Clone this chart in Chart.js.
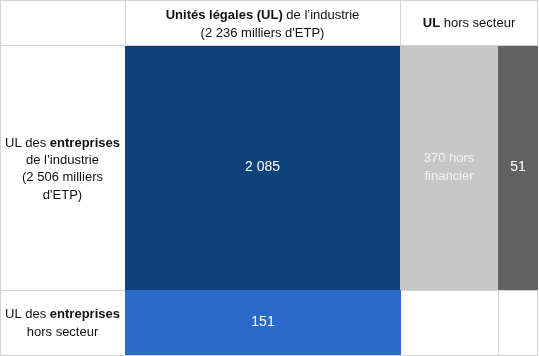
<!DOCTYPE html>
<html><head><meta charset="utf-8">
<script src="https://cdn.jsdelivr.net/npm/chart.js@4/dist/chart.umd.min.js"></script>
<style>html,body{margin:0;padding:0;background:#fff}#wrap{width:539px;height:356px}</style>
</head><body><div id="wrap"><canvas id="c"></canvas></div>
<script>
// ---- data ----
const columnHeaders = [
  [[{t:'Unités légales (UL)',b:true},{t:' de l’industrie'}],[{t:'(2 236 milliers d\'ETP)'}]],
  [[{t:'UL',b:true},{t:' hors secteur'}]]
];
const rowHeaders = [
  [[{t:'UL des '},{t:'entreprises',b:true}],[{t:'de l’industrie'}],[{t:'(2 506 milliers'}],[{t:'d\'ETP)'}]],
  [[{t:'UL des '},{t:'entreprises',b:true}],[{t:'hors secteur'}]]
];
const cellValues = [2085, 370, 51, 151];
const cellSuffix = ['', ' hors\nfinancier', '', ''];
const cellColors = ['#0f417b', '#c6c6c6', '#626262', '#2a6bc9'];
const cellTextColors = ['#ffffff', '#f4f4f4', '#ffffff', '#ffffff'];
// grid placement of each cell: [col0, col1, row0, row1] in layout grid indices
const cellGrid = [[1,2,1,2],[2,3,1,2],[3,4,1,2],[1,2,2,3]];

// ---- layout (scale units = px of the page) ----
const colEdges = [0, 125, 400, 498, 538];
const rowEdges = [0, 46, 290, 355];

function fmt(v){ return String(v).replace(/\B(?=(\d{3})+(?!\d))/g, ' '); }
const FONT = 'Liberation Sans, Arial, sans-serif';

function drawRich(ctx, lines, cx, cy, lh, color, size){
  size = size || 13;
  const n = lines.length;
  ctx.fillStyle = color;
  ctx.textBaseline = 'middle';
  ctx.textAlign = 'left';
  lines.forEach((segs, i) => {
    let w = 0;
    segs.forEach(s => { ctx.font = (s.b?'bold ':'') + size + 'px ' + FONT; w += ctx.measureText(s.t).width; });
    let x = cx - w/2;
    const y = cy + (i - (n-1)/2) * lh;
    segs.forEach(s => { ctx.font = (s.b?'bold ':'') + size + 'px ' + FONT; ctx.fillText(s.t, x, y); x += ctx.measureText(s.t).width; });
  });
}

const mosaic = {
  id: 'mosaic',
  beforeDatasetsDraw(chart){
    const ctx = chart.ctx, xs = chart.scales.x, ys = chart.scales.y;
    const X = v => xs.getPixelForValue(v), Y = v => ys.getPixelForValue(v);
    ctx.save();
    // grid lines
    ctx.strokeStyle = '#d3d3d3'; ctx.lineWidth = 1;
    const L = (x0,y0,x1,y1) => { ctx.beginPath(); ctx.moveTo(x0,y0); ctx.lineTo(x1,y1); ctx.stroke(); };
    const s = v => Math.round(v) + 0.5;
    L(0.5, 0, 0.5, Y(rowEdges[3])+1);
    L(s(X(colEdges[4])-1), 0, s(X(colEdges[4])-1), Y(rowEdges[3])+1);
    L(0, 0.5, X(colEdges[4]), 0.5);
    L(0, s(Y(rowEdges[3])), X(colEdges[4]), s(Y(rowEdges[3])));
    L(0, s(Y(rowEdges[1])-1), X(colEdges[4]), s(Y(rowEdges[1])-1));
    L(0, s(Y(rowEdges[2])), X(colEdges[4]), s(Y(rowEdges[2])));
    L(s(X(colEdges[1])), 0, s(X(colEdges[1])), Y(rowEdges[3]));
    L(s(X(colEdges[2])), 0, s(X(colEdges[2])), Y(rowEdges[3]));
    L(s(X(colEdges[3])), Y(rowEdges[2]), s(X(colEdges[3])), Y(rowEdges[3]));
    // cells
    const ds = chart.data.datasets[0];
    ds.data.forEach((d, i) => {
      const g = cellGrid[i];
      const x0 = X(colEdges[g[0]]), x1 = X(colEdges[g[1]]) + (i===3?1:0);
      const y0 = Y(rowEdges[g[2]]), y1 = Y(rowEdges[g[3]]);
      ctx.fillStyle = cellColors[i];
      ctx.fillRect(x0, y0, x1 - x0, y1 - y0);
      const txt = (fmt(d.v) + cellSuffix[i]).split('\n').map(t => [{t}]);
      const numOnly = cellSuffix[i] === '';
      drawRich(ctx, txt, (x0+x1)/2, (y0+y1)/2 - 0.5, 18, cellTextColors[i], numOnly ? 14 : 13);
    });
    // headers
    drawRich(ctx, columnHeaders[0], (X(colEdges[1])+X(colEdges[2]))/2, 24.5, 18, '#111');
    drawRich(ctx, columnHeaders[1], (X(colEdges[2])+X(colEdges[4]))/2, 23.5, 18, '#111');
    drawRich(ctx, rowHeaders[0], (X(colEdges[0])+X(colEdges[1]))/2, (Y(rowEdges[1])+Y(rowEdges[2]))/2 + 1, 17.3, '#111');
    drawRich(ctx, rowHeaders[1], (X(colEdges[0])+X(colEdges[1]))/2, (Y(rowEdges[2])+Y(rowEdges[3]))/2 + 1, 18.5, '#111');
    ctx.restore();
  }
};

const points = cellValues.map((v, i) => {
  const g = cellGrid[i];
  return { x: (colEdges[g[0]]+colEdges[g[1]])/2, y: (rowEdges[g[2]]+rowEdges[g[3]])/2, v };
});

new Chart(document.getElementById('c'), {
  type: 'scatter',
  data: { datasets: [{ data: points, pointRadius: 0, pointHoverRadius: 0 }] },
  options: {
    responsive: true, maintainAspectRatio: false, animation: false,
    layout: { padding: 0 },
    plugins: { legend: { display: false }, tooltip: { enabled: false } },
    scales: {
      x: { type: 'linear', min: 0, max: 539, display: false },
      y: { type: 'linear', min: 0, max: 356, reverse: true, display: false }
    }
  },
  plugins: [mosaic]
});
</script>
</body></html>
